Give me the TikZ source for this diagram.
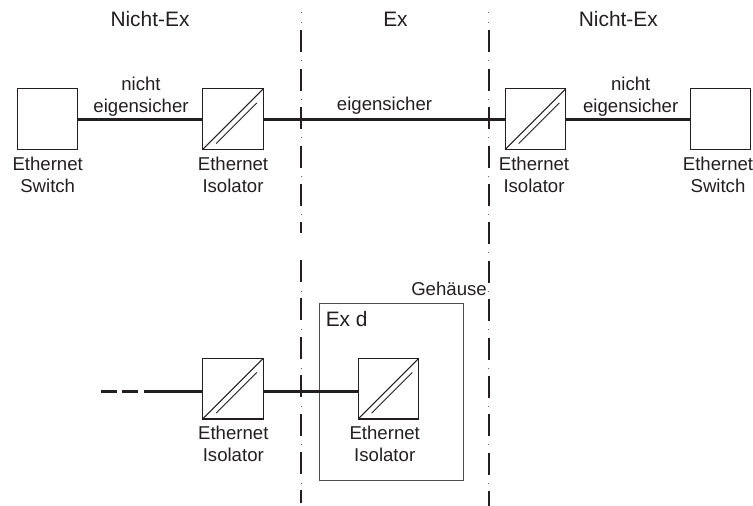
\documentclass[tikz,border=0pt]{standalone}
\usepackage{fontspec}
\setmainfont{Liberation Sans}
\usetikzlibrary{calc}
\definecolor{ink}{HTML}{231F20}
\newcommand{\isoslash}[1]{%
  \draw[boxline] (#1.south west) -- (#1.north east);
  \draw[boxline,line width=.9pt] ($(#1.south west)+(13.5,-6)$) -- ($(#1.north east)+(-6.5,14)$);
}
\tikzset{
  x=1pt,y=-1pt,
  boxline/.style={draw=ink,line width=1.1pt},
  devicebox/.style={boxline,fill=white,minimum size=60.6pt,inner sep=0pt,outer sep=0pt},
  wire/.style={draw=ink,line width=2.9pt},
  txt/.style={text=ink,inner sep=0pt,outer sep=0pt,align=center,font=\fontsize{18.6}{21.6}\selectfont},
  head/.style={text=ink,inner sep=0pt,outer sep=0pt,anchor=base,font=\fontsize{20.9}{24}\selectfont},
  longdash/.style={draw=ink,line width=2.1pt,dash pattern=on 22pt off 16.4pt,dash phase=-8.3pt},
  shortdot/.style={draw=ink!70,line width=.8pt,dash pattern=on 1pt off 37.4pt},
}
\begin{document}
\begin{tikzpicture}
\useasboundingbox (0,0) rectangle (753,506);
% zone borders
\coordinate (LA) at (301,22); \coordinate (LB) at (301,232.5);
\coordinate (LC) at (301,260); \coordinate (LD) at (301,503);
\coordinate (RA) at (488.7,22); \coordinate (RB) at (488.7,506);
\coordinate (LT) at (301,12); \coordinate (LT2) at (301,13);
\coordinate (RT) at (488.7,12); \coordinate (RT2) at (488.7,13);
\draw[longdash] (LA) -- (LB);
\draw[shortdot] (LA) -- (LB);
\draw[longdash,dash phase=0pt] (LC) -- (LD);
\draw[shortdot,dash phase=7.7pt] (LC) -- (LD);
\draw[longdash] (RA) -- (RB);
\draw[shortdot] (RA) -- (RB);
\draw[shortdot,dash pattern=on 1pt off 1pt] (LT) -- (LT2);
\draw[shortdot,dash pattern=on 1pt off 1pt] (RT) -- (RT2);
% enclosure
\node[draw=ink!80,line width=.9pt,minimum width=144pt,minimum height=176.7pt,inner sep=0pt,anchor=north west] (encl) at (318.7,303.3) {};
% devices
\node[devicebox] (sw1) at (47.5,119.2) {};
\node[devicebox] (iso1) at (233,119.2) {};
\node[devicebox] (iso2) at (535.5,119.2) {};
\node[devicebox] (sw2) at (720.4,119.2) {};
\node[devicebox] (iso3) at (233,388.7) {};
\node[devicebox] (iso4) at (388.5,388.7) {};
\isoslash{iso1}\isoslash{iso2}\isoslash{iso3}\isoslash{iso4}
% connectors
\draw[wire] (sw1.east) -- (iso1.west);
\draw[wire] (iso1.east) -- (iso2.west);
\draw[wire] (iso2.east) -- (sw2.west);
\coordinate (dstart) at (101,391.7);
\coordinate (dend) at (173,391.7);
\draw[wire,dash pattern=on 15.7pt off 5.7pt on 15.7pt off 5.7pt on 29pt off 1pt] (dstart) -- (dend);
\draw[wire,line width=2.5pt] (dend) -- (iso3.west |- dend);
\draw[wire] (iso3.east |- dend) -- (iso4.west |- dend);
% texts
\node[head] (h1) at (150,26.7) {Nicht-Ex};
\node[head] (h2) at (395.5,26.7) {Ex};
\node[head] (h3) at (618.3,26.7) {Nicht-Ex};
\node[txt,anchor=north] (t1) at (141,77.2) {nicht\\eigensicher};
\node[txt,anchor=north] (t2) at (630.7,77.2) {nicht\\eigensicher};
\node[txt,anchor=base] (t3) at (384.5,110.7) {eigensicher};
\node[txt,anchor=north] (l1) at (47.7,157.5) {Ethernet\\Switch};
\node[txt,anchor=north] (l2) at (233,157.5) {Ethernet\\Isolator};
\node[txt,anchor=north] (l3) at (534,157.5) {Ethernet\\Isolator};
\node[txt,anchor=north] (l4) at (718,157.5) {Ethernet\\Switch};
\node[txt,anchor=north] (l5) at (233.3,426) {Ethernet\\Isolator};
\node[txt,anchor=north] (l6) at (384.7,426) {Ethernet\\Isolator};
\node[txt,anchor=base] (g) at (449,295.7) {Gehäuse};
\node[head] (exd) at (346.7,326.7) {Ex d};
\end{tikzpicture}
\end{document}
